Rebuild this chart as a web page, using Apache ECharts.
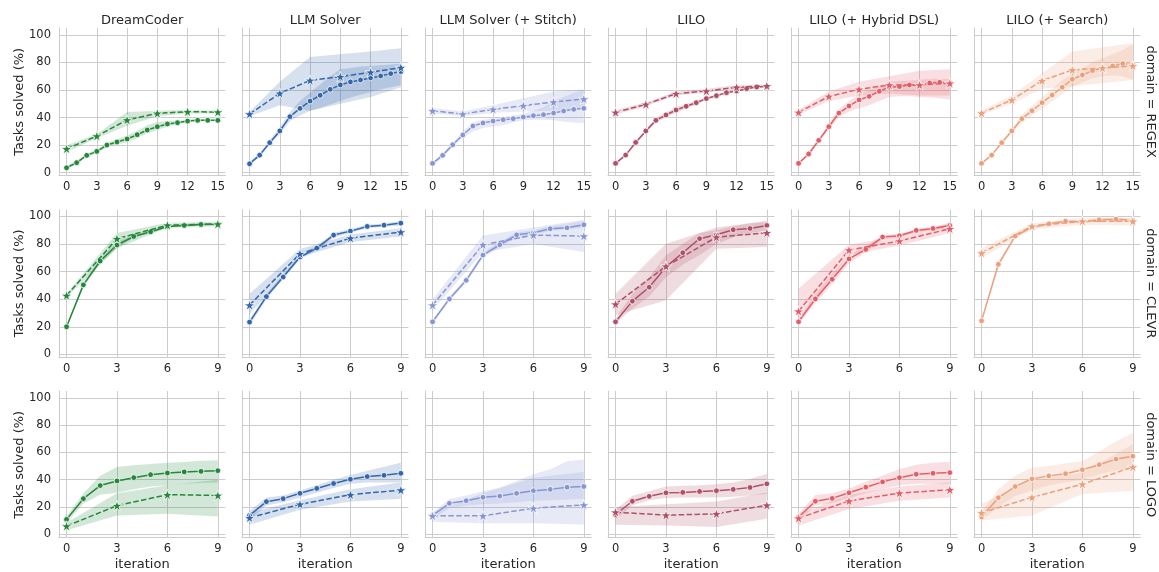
<!DOCTYPE html>
<html>
<head>
<meta charset="utf-8">
<script src="https://cdn.jsdelivr.net/npm/echarts@6/dist/echarts.min.js"></script>
<style>
html,body{margin:0;padding:0;background:#fff;}
#chart{width:1159px;height:572px;}
</style>
</head>
<body>
<div id="chart"></div>
<script>
// ---------------- DATA ----------------
const methods = ['DreamCoder', 'LLM Solver', 'LLM Solver (+ Stitch)', 'LILO', 'LILO (+ Hybrid DSL)', 'LILO (+ Search)'];
const domains = ['REGEX', 'CLEVR', 'LOGO'];
const colors = ['#24873a', '#3366aa', '#8796d3', '#b05068', '#e15f69', '#eba07c'];

const regexIters = [0, 1, 2, 3, 4, 5, 6, 7, 8, 9, 10, 11, 12, 13, 14, 15];
const regexStarIters = [0, 3, 6, 9, 12, 15];
const shortIters = [0, 1, 2, 3, 4, 5, 6, 7, 8, 9];
const shortStarIters = [0, 3, 6, 9];
const xTicksRegex = [0, 3, 6, 9, 12, 15];
const xTicksShort = [0, 3, 6, 9];
const yTicks = [0, 20, 40, 60, 80, 100];

// REGEX (iterations 0..15; dashed at 0,3,...,15)
const regexSolid = [
  [3.6, 7.3, 12.6, 15.5, 20.1, 22.3, 24.5, 27.6, 31.0, 33.4, 35.4, 36.3, 37.5, 38.0, 38.0, 38.0],
  [6.5, 12.8, 21.8, 30.3, 40.7, 46.7, 52.0, 56.2, 60.5, 63.7, 65.9, 67.3, 68.8, 70.2, 71.9, 73.4],
  [6.8, 12.6, 20.3, 27.4, 33.9, 36.1, 37.5, 38.5, 39.2, 40.4, 41.4, 42.1, 43.3, 44.8, 46.0, 46.7],
  [6.8, 12.8, 22.0, 30.3, 38.0, 41.9, 45.5, 48.2, 50.8, 53.8, 55.9, 58.1, 59.3, 61.0, 62.2, 62.7],
  [6.8, 13.6, 23.5, 33.4, 43.3, 48.4, 52.8, 55.4, 59.1, 62.0, 62.5, 63.7, 63.4, 65.1, 65.6, 65.1],
  [6.8, 12.8, 21.8, 30.3, 39.2, 45.0, 50.8, 56.4, 62.0, 67.8, 70.9, 74.1, 76.0, 77.5, 79.2, 78.2]
];
const regexSolidLo = [
  [2.5, 6.2, 11.4, 14.2, 18.6, 20.5, 22.2, 25.0, 28.6, 31.0, 33.5, 35.3, 36.6, 37.1, 37.2, 37.2],
  [5.0, 11.4, 20.3, 28.0, 37.5, 41.5, 45.0, 47.0, 49.5, 52.0, 54.5, 56.5, 58.5, 60.5, 62.0, 63.5],
  [5.5, 11.2, 18.8, 25.0, 30.0, 32.5, 33.5, 34.5, 36.5, 38.0, 38.5, 38.5, 38.0, 37.0, 36.5, 36.0],
  [6.0, 12.0, 21.0, 29.2, 36.5, 40.0, 43.5, 46.5, 49.5, 52.8, 55.0, 57.3, 58.6, 60.3, 61.6, 62.0],
  [6.0, 12.5, 22.0, 31.5, 40.5, 44.5, 47.0, 49.0, 52.0, 55.0, 55.5, 55.5, 55.0, 54.5, 54.0, 53.0],
  [6.0, 12.0, 20.8, 28.5, 36.5, 41.5, 46.5, 51.5, 57.0, 62.0, 65.5, 68.5, 70.0, 70.5, 70.0, 67.5]
];
const regexSolidHi = [
  [4.8, 8.5, 13.8, 16.9, 21.6, 24.4, 27.0, 30.4, 34.5, 36.8, 37.5, 37.6, 38.4, 38.9, 38.8, 38.8],
  [8.0, 14.2, 23.3, 32.8, 44.0, 52.0, 58.0, 64.0, 70.0, 75.0, 76.0, 77.0, 77.5, 78.0, 78.5, 79.0],
  [8.0, 14.0, 21.8, 30.0, 36.5, 38.5, 39.5, 40.5, 41.5, 43.0, 45.0, 47.5, 52.0, 55.0, 58.0, 60.0],
  [7.6, 13.6, 23.0, 31.4, 39.5, 43.8, 47.5, 50.0, 52.2, 55.0, 57.0, 59.0, 60.2, 61.8, 62.8, 63.4],
  [7.6, 14.8, 25.0, 35.5, 46.0, 52.0, 57.0, 60.0, 63.0, 66.0, 66.5, 67.0, 67.5, 68.0, 68.0, 68.0],
  [7.6, 13.6, 22.8, 32.0, 42.0, 48.5, 55.0, 61.0, 67.0, 72.5, 76.0, 80.0, 83.0, 86.0, 89.0, 93.0]
];
const regexDash = [
  [17.4, 26.6, 38.3, 43.1, 44.3, 44.0],
  [42.6, 57.6, 67.0, 69.7, 72.9, 76.3],
  [45.0, 42.6, 46.0, 48.7, 51.3, 53.5],
  [43.8, 49.6, 57.4, 59.3, 62.0, 63.0],
  [43.8, 55.4, 60.5, 63.7, 63.7, 64.9],
  [43.3, 52.8, 66.8, 74.6, 76.0, 77.5]
];
const regexDashLo = [
  [15.0, 25.0, 34.0, 41.0, 43.0, 43.0],
  [41.0, 49.0, 45.0, 50.0, 55.0, 62.0],
  [43.0, 41.0, 43.5, 44.5, 45.0, 46.0],
  [42.3, 48.3, 56.0, 58.0, 60.5, 62.0],
  [42.0, 52.0, 56.0, 57.5, 56.0, 56.0],
  [42.0, 50.0, 61.0, 63.0, 65.0, 67.3]
];
const regexDashHi = [
  [20.0, 28.0, 44.0, 45.0, 45.5, 45.0],
  [44.2, 66.0, 84.0, 86.0, 88.0, 90.3],
  [47.0, 44.5, 49.0, 54.0, 59.0, 60.5],
  [45.3, 51.0, 59.0, 61.0, 63.5, 64.2],
  [45.5, 59.0, 66.0, 70.0, 74.0, 75.0],
  [45.0, 56.0, 72.0, 87.9, 91.0, 94.0]
];

// CLEVR (iterations 0..9; dashed at 0,3,6,9)
const clevrSolid = [
  [20.0, 50.4, 67.7, 79.3, 85.5, 88.9, 92.8, 93.5, 94.2, 94.5],
  [23.4, 41.9, 56.1, 70.6, 77.1, 86.5, 89.4, 92.8, 93.7, 95.2],
  [23.6, 40.2, 53.7, 72.0, 79.5, 86.7, 88.2, 91.1, 91.8, 94.0],
  [23.6, 38.6, 48.7, 63.4, 73.7, 83.9, 86.7, 90.4, 91.3, 93.5],
  [23.6, 40.2, 54.5, 69.2, 76.1, 85.1, 86.0, 89.9, 91.3, 93.5],
  [24.3, 65.3, 85.8, 92.3, 94.7, 96.6, 96.1, 97.6, 98.0, 97.3]
];
const clevrSolidLo = [
  [19.0, 48.5, 66.0, 77.0, 84.5, 88.0, 91.5, 92.8, 93.5, 93.5],
  [21.0, 40.0, 54.5, 69.0, 75.5, 84.5, 88.0, 91.5, 92.5, 93.5],
  [22.0, 38.5, 52.0, 70.0, 77.5, 84.5, 86.5, 89.5, 90.5, 92.0],
  [22.4, 33.0, 42.0, 56.0, 65.0, 72.0, 80.0, 85.0, 88.0, 90.0],
  [22.0, 37.0, 51.0, 66.0, 74.0, 83.5, 85.0, 88.5, 90.0, 91.5],
  [23.0, 63.0, 84.5, 91.0, 93.5, 95.5, 95.0, 96.5, 97.0, 96.0]
];
const clevrSolidHi = [
  [21.0, 52.5, 69.5, 82.0, 87.0, 90.0, 94.0, 94.5, 95.0, 95.5],
  [25.5, 44.0, 58.0, 72.5, 79.0, 88.0, 91.0, 94.0, 95.0, 96.8],
  [25.0, 42.0, 55.5, 74.0, 81.5, 88.5, 90.0, 93.0, 94.5, 97.0],
  [26.0, 44.0, 56.0, 71.8, 80.0, 88.0, 90.0, 93.0, 95.0, 96.0],
  [25.5, 44.0, 58.5, 72.0, 78.5, 86.5, 87.5, 91.0, 92.5, 95.5],
  [25.5, 67.5, 87.0, 93.5, 95.8, 97.5, 97.2, 98.5, 99.0, 98.5]
];
const clevrDash = [
  [42.7, 83.9, 93.7, 94.5],
  [35.7, 73.0, 84.3, 88.7],
  [35.7, 79.5, 86.5, 85.8],
  [36.4, 63.9, 85.0, 88.2],
  [31.3, 75.7, 82.2, 91.1],
  [73.5, 93.0, 96.6, 96.6]
];
const clevrDashLo = [
  [41.5, 77.0, 92.0, 93.0],
  [29.0, 70.5, 81.5, 85.5],
  [32.0, 74.0, 80.0, 74.2],
  [28.4, 39.3, 76.6, 77.8],
  [23.0, 72.0, 79.0, 88.0],
  [70.0, 90.5, 94.0, 93.5]
];
const clevrDashHi = [
  [44.0, 88.0, 95.5, 96.0],
  [44.0, 76.5, 87.0, 91.5],
  [40.0, 86.3, 92.0, 97.6],
  [44.0, 80.2, 92.0, 97.0],
  [47.7, 79.5, 86.0, 95.0],
  [77.0, 95.0, 99.0, 99.0]
];

// LOGO (iterations 0..9; dashed at 0,3,6,9)
const logoSolid = [
  [10.9, 26.1, 35.7, 39.1, 41.5, 43.7, 44.9, 45.7, 46.1, 46.6],
  [13.8, 23.9, 26.1, 30.0, 33.6, 37.2, 40.3, 42.3, 43.2, 44.7],
  [13.8, 22.7, 24.6, 27.1, 28.0, 30.0, 31.9, 32.9, 34.5, 35.0],
  [14.5, 24.2, 27.8, 30.4, 30.7, 31.4, 31.9, 32.9, 34.3, 37.0],
  [12.6, 24.2, 26.3, 30.4, 34.5, 38.4, 41.5, 44.0, 44.7, 45.2],
  [12.6, 26.8, 35.0, 40.6, 42.8, 44.4, 47.3, 51.0, 55.1, 57.2]
];
const logoSolidLo = [
  [8.5, 22.5, 29.0, 30.5, 33.0, 35.0, 36.0, 37.0, 37.5, 38.0],
  [10.0, 21.0, 23.5, 27.0, 30.5, 34.0, 37.0, 38.0, 38.0, 38.0],
  [11.0, 19.0, 21.0, 22.0, 22.5, 23.5, 24.5, 25.0, 25.5, 26.0],
  [11.0, 21.0, 25.0, 26.5, 27.0, 27.0, 27.0, 27.5, 28.5, 29.5],
  [10.0, 21.0, 23.0, 26.5, 30.0, 33.0, 36.0, 37.0, 37.0, 37.0],
  [10.0, 20.0, 28.0, 32.0, 36.0, 38.0, 40.0, 44.0, 47.0, 48.0]
];
const logoSolidHi = [
  [13.0, 30.0, 42.8, 49.3, 50.5, 51.5, 52.4, 53.0, 53.8, 54.3],
  [17.0, 27.0, 28.5, 32.0, 36.0, 40.0, 43.5, 46.5, 49.5, 52.4],
  [16.0, 25.8, 28.5, 31.5, 34.3, 39.0, 44.0, 47.6, 53.6, 54.8],
  [18.0, 28.3, 31.5, 35.0, 35.5, 36.0, 36.7, 38.0, 40.5, 44.4],
  [15.0, 28.7, 30.0, 33.6, 38.5, 43.0, 47.6, 51.0, 52.4, 53.1],
  [16.0, 33.0, 43.0, 48.8, 50.0, 52.0, 53.6, 60.9, 68.0, 74.2]
];
const logoDash = [
  [6.0, 21.0, 29.0, 28.5],
  [12.1, 22.0, 29.0, 32.4],
  [13.5, 13.5, 19.1, 21.5],
  [16.2, 14.0, 15.0, 21.3],
  [11.8, 24.4, 30.2, 32.6],
  [15.7, 27.1, 36.7, 49.3]
];
const logoDashLo = [
  [3.0, 13.8, 15.0, 13.0],
  [7.0, 18.0, 24.0, 26.0],
  [9.0, 8.0, 8.0, 7.2],
  [7.0, 6.5, 5.3, 11.4],
  [6.5, 18.6, 24.6, 27.0],
  [10.1, 13.8, 29.5, 31.9]
];
const logoDashHi = [
  [8.5, 30.0, 36.0, 40.0],
  [16.0, 25.0, 33.0, 38.0],
  [16.0, 30.0, 41.5, 45.6],
  [20.0, 22.0, 24.0, 30.7],
  [15.0, 29.0, 35.0, 38.0],
  [22.2, 40.0, 45.0, 66.0]
];

// ---------------- LAYOUT / STYLE ----------------
const TEXT = '#262626';
const GRIDC = '#cccccc';
const FONT = '"DejaVu Sans", "Liberation Sans", sans-serif';
const colPitch = 183;
const gridLeft0 = 59;
const gridW = 166.4;
const gridH = 147.5;
const rowTops = [28, 209.6, 391];
const STAR = 'path://M0,-1 L0.2245,-0.309 L0.951,-0.309 L0.363,0.118 L0.588,0.809 L0,0.382 L-0.588,0.809 L-0.363,0.118 L-0.951,-0.309 L-0.2245,-0.309 Z';

const domainSets = [
  {iters: regexIters, star: regexStarIters, ticks: xTicksRegex, pad: 0.75,
   s: regexSolid, sLo: regexSolidLo, sHi: regexSolidHi, d: regexDash, dLo: regexDashLo, dHi: regexDashHi},
  {iters: shortIters, star: shortStarIters, ticks: xTicksShort, pad: 0.45,
   s: clevrSolid, sLo: clevrSolidLo, sHi: clevrSolidHi, d: clevrDash, dLo: clevrDashLo, dHi: clevrDashHi},
  {iters: shortIters, star: shortStarIters, ticks: xTicksShort, pad: 0.45,
   s: logoSolid, sLo: logoSolidLo, sHi: logoSolidHi, d: logoDash, dLo: logoDashLo, dHi: logoDashHi}
];

const grids = [], xAxes = [], yAxes = [], series = [], graphics = [];

function pairs(xs, ys) { return xs.map((x, i) => [x, ys[i]]); }

// confidence band drawn as a polygon through the axis scales
function band(gi, xs, lo, hi, color) {
  series.push({
    type: 'custom', xAxisIndex: gi, yAxisIndex: gi, silent: true, z: 1,
    coordinateSystem: 'cartesian2d',
    data: xs.map((x, i) => [x, lo[i], hi[i]]),
    encode: {x: 0, y: [1, 2]},
    renderItem: function (params, api) {
      if (params.dataIndex !== 0) return null;
      const pts = [];
      for (let i = 0; i < xs.length; i++) pts.push(api.coord([xs[i], hi[i]]));
      for (let i = xs.length - 1; i >= 0; i--) pts.push(api.coord([xs[i], lo[i]]));
      return {type: 'polygon', shape: {points: pts}, style: {fill: color, opacity: 0.2}, silent: true};
    }
  });
}

domains.forEach((dom, r) => {
  const ds = domainSets[r];
  const xmax = ds.iters[ds.iters.length - 1];
  methods.forEach((m, c) => {
    const gi = r * 6 + c;
    const left = gridLeft0 + colPitch * c;
    grids.push({left: left, top: rowTops[r], width: gridW, height: gridH, containLabel: false});
    xAxes.push({
      type: 'value', gridIndex: gi, min: -ds.pad, max: xmax + ds.pad,
      axisLine: {show: true, onZero: false, lineStyle: {color: GRIDC, width: 1}},
      axisTick: {show: false, customValues: ds.ticks},
      axisLabel: {show: true, customValues: ds.ticks, color: TEXT, fontSize: 11.5, fontFamily: FONT, margin: 6},
      splitLine: {show: true, lineStyle: {color: GRIDC, width: 1}},
      name: r === 2 ? 'iteration' : '', nameLocation: 'middle', nameGap: 21,
      nameTextStyle: {color: TEXT, fontSize: 13, fontFamily: FONT}
    });
    yAxes.push({
      type: 'value', gridIndex: gi, min: -2, max: 105,
      axisLine: {show: true, onZero: false, lineStyle: {color: GRIDC, width: 1}},
      axisTick: {show: false, customValues: yTicks},
      axisLabel: {show: c === 0, customValues: yTicks, color: TEXT, fontSize: 11.5, fontFamily: FONT, margin: 8},
      splitLine: {show: true, lineStyle: {color: GRIDC, width: 1}}
    });
    const col = colors[c];
    band(gi, ds.iters, ds.sLo[c], ds.sHi[c], col);
    band(gi, ds.star, ds.dLo[c], ds.dHi[c], col);
    series.push({
      type: 'line', xAxisIndex: gi, yAxisIndex: gi, data: pairs(ds.iters, ds.s[c]),
      symbol: 'circle', symbolSize: 5.8, showSymbol: true,
      lineStyle: {color: col, width: 1.5},
      itemStyle: {color: col, borderColor: '#ffffff', borderWidth: 0.8},
      z: 3, silent: true, emphasis: {disabled: true}
    });
    series.push({
      type: 'line', xAxisIndex: gi, yAxisIndex: gi, data: pairs(ds.star, ds.d[c]),
      symbol: STAR, symbolSize: 11, symbolKeepAspect: true, showSymbol: true,
      lineStyle: {color: col, width: 1.5, type: [5.5, 2.4]},
      itemStyle: {color: col, borderColor: '#ffffff', borderWidth: 0.8},
      z: 4, silent: true, emphasis: {disabled: true}
    });
    if (r === 0) {
      graphics.push({
        type: 'text', x: left + gridW / 2, y: 20.5, silent: true,
        style: {text: m, fill: TEXT, font: '13px ' + FONT, textAlign: 'center', textVerticalAlign: 'middle', align: 'center', verticalAlign: 'middle'}
      });
    }
  });
  const cy = rowTops[r] + gridH / 2;
  graphics.push({
    type: 'text', x: 19.5, y: cy, rotation: Math.PI / 2, silent: true,
    style: {text: 'Tasks solved (%)', fill: TEXT, font: '13px ' + FONT, textAlign: 'center', textVerticalAlign: 'middle', align: 'center', verticalAlign: 'middle'}
  });
  graphics.push({
    type: 'text', x: 1150, y: cy, rotation: -Math.PI / 2, silent: true,
    style: {text: 'domain = ' + dom, fill: TEXT, font: '13px ' + FONT, textAlign: 'center', textVerticalAlign: 'middle', align: 'center', verticalAlign: 'middle'}
  });
});

const chart = echarts.init(document.getElementById('chart'), null, {renderer: 'canvas'});
chart.setOption({
  animation: false,
  backgroundColor: '#ffffff',
  grid: grids,
  xAxis: xAxes,
  yAxis: yAxes,
  series: series,
  graphic: graphics
});
</script>
</body>
</html>
